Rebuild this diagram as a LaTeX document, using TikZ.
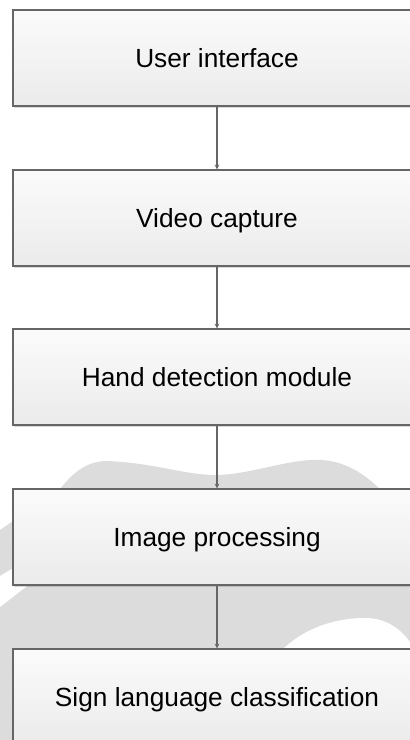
\documentclass[tikz,border=0pt]{standalone}
\usepackage{fontspec}
\setmainfont{Liberation Sans}
\usepackage{tikz}
\usetikzlibrary{arrows.meta, shadows}
\definecolor{abugaris}{RGB}{102,102,102}
\definecolor{abuatas}{RGB}{251,251,251}
\definecolor{abubawah}{RGB}{235,235,235}
\definecolor{abulatar}{RGB}{220,220,220}

\tikzset{
  kotak/.style={draw=abugaris, line width=1pt, top color=abuatas, bottom color=abubawah,
    minimum width=306pt, minimum height=72pt, inner sep=0pt,
    text height=14.1pt, text depth=0pt,
    drop shadow={shadow xshift=1pt, shadow yshift=-1.5pt, fill=black, opacity=0.15}},
  panah/.style={draw=abugaris, line width=1pt, -{Stealth[length=3.5pt, width=3.5pt]}}
}

\begin{document}
\begin{tikzpicture}[x=0.75pt, y=-0.75pt, font=\fontsize{19.7}{24}\selectfont]
                \useasboundingbox (0,0) rectangle (410,740);
                \clip (0,0) rectangle (410,740);
                % latar (watermark)
                \fill[abulatar] (0,530) -- (60,489) .. controls (75,470) and (88,462) .. (105,461)
                    .. controls (150,462) and (185,475) .. (215,475)
                    .. controls (250,475) and (290,458) .. (322,460)
                    .. controls (350,462) and (368,478) .. (380,489)
                    -- (410,520) -- (410,740) -- (0,740) -- cycle;
                \fill[white] (0,576) -- (60,540) -- (75,548) -- (27,586) -- (0,607) -- cycle;
                \fill[white] (283,649) .. controls (305,628) and (335,618) .. (365,618)
                    .. controls (385,618) and (400,628) .. (410,642) -- (410,649) -- cycle;
                % kotak
                \node[kotak] (user) at (217,58) {User interface};
                \node[kotak] (video) at (217,218) {Video capture};
                \node[kotak] (hand) at (217,377) {Hand detection module};
                \node[kotak] (image) at (217,537) {Image processing};
                \node[kotak] (sign) at (217,697) {Sign language classification};
                % panah
                \draw[panah] (user) -- (video);
                \draw[panah] (video) -- (hand);
                \draw[panah] (hand) -- (image);
                \draw[panah] (image) -- (sign);
            \end{tikzpicture}
\end{document}
